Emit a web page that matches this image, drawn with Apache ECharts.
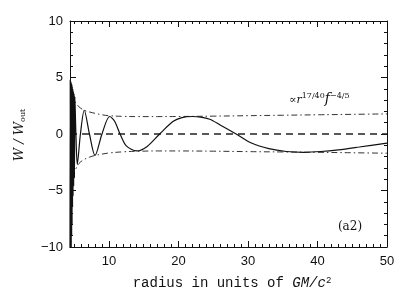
<!DOCTYPE html>
<html><head><meta charset="utf-8">
<script src="https://cdn.jsdelivr.net/npm/echarts@6/dist/echarts.min.js"></script>
<style>html,body{margin:0;padding:0;background:#fff}#c{width:408px;height:291px}</style>
</head><body><div id="c"></div>
<script>
// ---- data ----
const xRange = [4.4, 50];
const yRange = [-10, 10];
const xMajorTicks = [10, 20, 30, 40, 50];
const xMinorTicks = [5,6,7,8,9,11,12,13,14,15,16,17,18,19,21,22,23,24,25,26,27,28,29,31,32,33,34,35,36,37,38,39,41,42,43,44,45,46,47,48,49];
const zeroLevel = 0;

// solid curve W/W_out vs radius
const solidR = [4.40, 4.43, 4.46, 4.49, 4.52, 4.55, 4.58, 4.61, 4.64, 4.67, 4.70, 4.73, 4.765, 4.80, 4.84, 4.88, 4.93, 4.98, 5.04, 5.10, 5.25, 5.45, 5.90, 6.45, 7.20, 8.00, 9.00, 10.1, 10.8, 11.6, 12.5, 14.0, 15.5, 17.3, 19.2, 20.5, 22.0, 23.2, 24.5, 26.0, 28.3, 30.5, 33.0, 35.5, 38.0, 40.5, 43.0, 46.0, 50.0];
const solidW = [-11.0, 4.8, -11.0, 4.7, -10.5, 4.6, -10.0, 4.5, -9.0, 4.4, -8.0, 4.2, -6.5, 4.0, -5.5, 3.8, -4.6, 3.6, -3.9, 3.3, 0.0, -2.7, 0.0, 2.1, 0.0, -1.9, 0.0, 1.55, 1.15, 0.0, -1.05, -1.5, -1.1, 0.0, 1.1, 1.45, 1.55, 1.5, 1.3, 0.8, 0.0, -0.8, -1.3, -1.55, -1.62, -1.55, -1.4, -1.15, -0.8];

// dash-dot envelope (upper and lower)
const envR = [4.45, 4.6, 4.8, 5.0, 5.3, 5.7, 6.45, 7.2, 8.0, 9.0, 10.0, 12.0, 14.0, 17.0, 20.0, 25.0, 30.0, 35.0, 40.0, 45.0, 50.0];
const envUpper = [4.8, 4.0, 3.4, 3.0, 2.7, 2.4, 2.1, 1.95, 1.83, 1.7, 1.62, 1.56, 1.54, 1.54, 1.55, 1.58, 1.62, 1.66, 1.7, 1.74, 1.78];
const envLower = [-5.0, -4.4, -3.8, -3.4, -3.0, -2.6, -2.25, -2.05, -1.9, -1.78, -1.68, -1.58, -1.53, -1.5, -1.5, -1.52, -1.56, -1.59, -1.62, -1.66, -1.7];

// ---- chart ----
const zip = (a, b) => a.map((v, i) => [v, b[i]]);
const black = '#111';
const labelFont = { color: black, fontFamily: 'Liberation Sans', fontSize: 13 };

function xAxisDef(pos, ticks, len, showLine, showLabel) {
  return {
    type: 'value', min: xRange[0], max: xRange[1], position: pos,
    axisLine: { show: showLine, onZero: false, lineStyle: { color: black, width: 1 } },
    axisTick: { show: true, inside: true, length: len, customValues: ticks, lineStyle: { color: black, width: 1 } },
    axisLabel: Object.assign({ show: showLabel, customValues: ticks, margin: 8 }, labelFont),
    splitLine: { show: false }
  };
}
function yAxisDef(pos, showLabel) {
  return {
    type: 'value', min: yRange[0], max: yRange[1], interval: 5, position: pos,
    axisLine: { show: true, onZero: false, lineStyle: { color: black, width: 1 } },
    axisTick: { show: true, inside: true, length: 6, lineStyle: { color: black, width: 1 } },
    minorTick: { show: true, splitNumber: 5, length: 3, lineStyle: { color: black, width: 1 } },
    axisLabel: Object.assign({ show: showLabel, margin: 7, formatter: v => String(v).replace('-', '\u2212') }, labelFont),
    splitLine: { show: false }, minorSplitLine: { show: false }
  };
}

const chart = echarts.init(document.getElementById('c'), null, { renderer: 'canvas' });
chart.setOption({
  animation: false,
  backgroundColor: '#fff',
  grid: { left: 70, right: 21, top: 21, bottom: 44, containLabel: false },
  xAxis: [
    xAxisDef('bottom', xMajorTicks, 6, true, true),
    xAxisDef('bottom', xMinorTicks, 3, false, false),
    xAxisDef('top', xMajorTicks, 6, true, false),
    xAxisDef('top', xMinorTicks, 3, false, false)
  ],
  yAxis: [yAxisDef('left', true), yAxisDef('right', false)],
  series: [
    { type: 'line', xAxisIndex: 0, yAxisIndex: 0, symbol: 'none', silent: true,
      data: [[xRange[0], zeroLevel], [xRange[1], zeroLevel]],
      lineStyle: { color: '#222', width: 1.4, type: [7, 5] } },
    { type: 'line', xAxisIndex: 0, yAxisIndex: 0, symbol: 'none', silent: true, smooth: 0.4,
      data: zip(envR, envUpper),
      lineStyle: { color: '#333', width: 1, type: [6, 3, 1.5, 3] } },
    { type: 'line', xAxisIndex: 0, yAxisIndex: 0, symbol: 'none', silent: true, smooth: 0.4,
      data: zip(envR, envLower),
      lineStyle: { color: '#333', width: 1, type: [6, 3, 1.5, 3] } },
    { type: 'line', xAxisIndex: 0, yAxisIndex: 0, symbol: 'none', silent: true, smooth: 0.3, clip: true,
      data: zip(solidR, solidW),
      lineStyle: { color: black, width: 1.2 } }
  ],
  graphic: [
    { type: 'text', x: 20, y: 135, rotation: Math.PI / 2,
      style: { text: '{i|W / W}{s|out}', align: 'center', verticalAlign: 'middle',
        rich: { i: { fontFamily: 'DejaVu Serif', fontStyle: 'italic', fontSize: 13, fill: black, verticalAlign: 'bottom' },
                s: { fontFamily: 'DejaVu Serif', fontSize: 8, fill: black, verticalAlign: 'bottom' } } } },
    { type: 'text', x: 232, y: 283,
      style: { text: '{t|radius in units of }{i|GM/c}{p|2}', align: 'center', verticalAlign: 'middle',
        rich: { t: { fontFamily: 'Liberation Mono', fontSize: 14, fill: black, verticalAlign: 'bottom' },
                i: { fontFamily: 'Liberation Mono', fontStyle: 'italic', fontSize: 14, fill: black, verticalAlign: 'bottom' },
                p: { fontFamily: 'Liberation Mono', fontSize: 9, fill: black, verticalAlign: 'top' } } } },
    { type: 'text', x: 289, y: 99,
      style: { text: '{a|\u221Dr}{s|17/40}{f|f}{s|\u22124/5}', align: 'left', verticalAlign: 'middle',
        rich: { a: { fontFamily: 'DejaVu Serif', fontStyle: 'italic', fontSize: 11, fill: black, verticalAlign: 'bottom' },
                f: { fontFamily: 'DejaVu Serif', fontStyle: 'italic', fontSize: 14, fill: black, verticalAlign: 'bottom' },
                s: { fontFamily: 'DejaVu Serif', fontSize: 8, fill: black, verticalAlign: 'top' } } } },
    { type: 'text', x: 350, y: 227,
      style: { text: '(a2)', align: 'center', verticalAlign: 'middle', fontFamily: 'DejaVu Serif', fontSize: 12, fill: black } }
  ]
});
</script>
</body></html>
